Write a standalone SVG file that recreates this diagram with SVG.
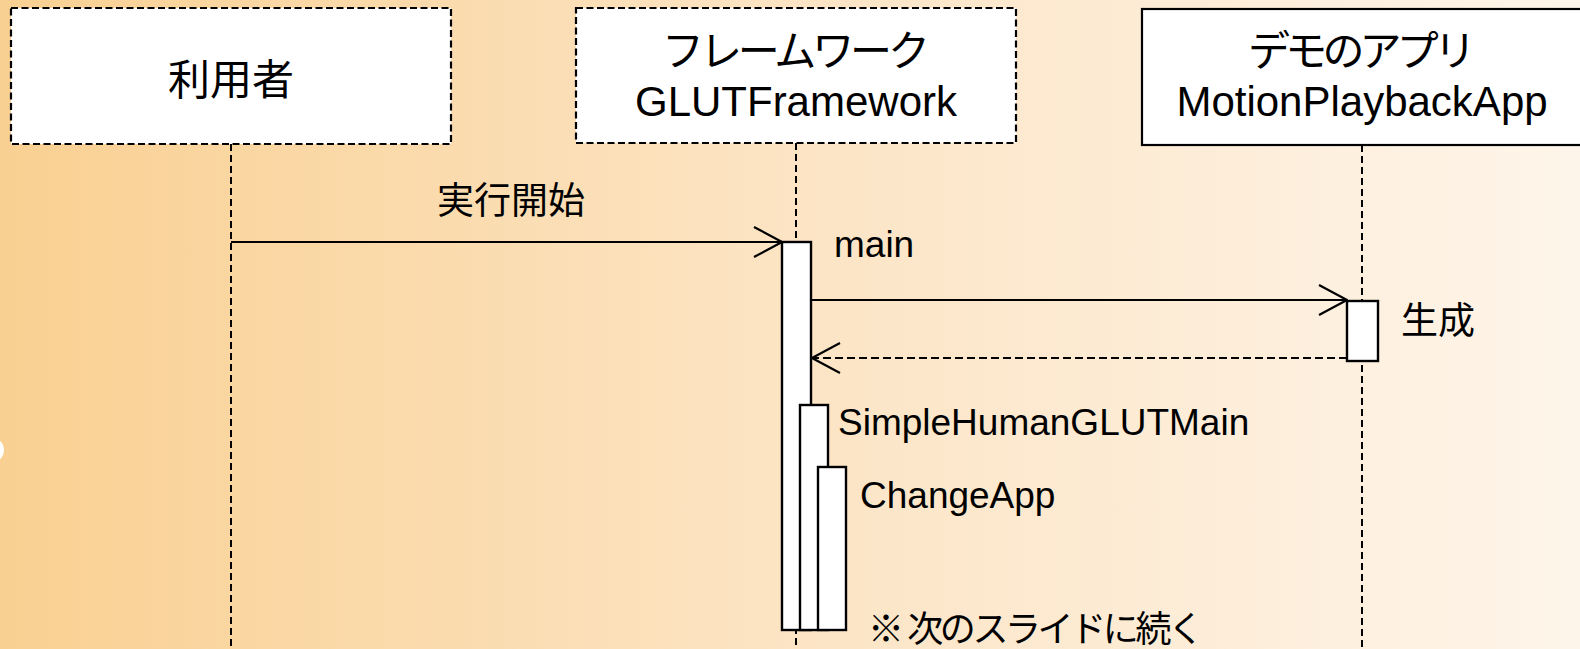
<svg xmlns="http://www.w3.org/2000/svg" width="1580" height="649" viewBox="0 0 1580 649">
  <defs>
    <linearGradient id="bg" x1="0" y1="0" x2="1" y2="0">
      <stop offset="0" stop-color="#F9D092"/>
      <stop offset="0.5" stop-color="#FCE4C4"/>
      <stop offset="1" stop-color="#FEF5EA"/>
    </linearGradient>
    <marker id="open" viewBox="0 0 30 34" refX="29" refY="17" markerWidth="30" markerHeight="34" markerUnits="userSpaceOnUse" orient="auto">
      <path d="M1 2 L29 17 L1 32" fill="none" stroke="#000" stroke-width="2.2"/>
    </marker>
    <style>
      text { font-family: "Liberation Sans", "Noto Sans CJK JP", sans-serif; fill: #000; }
      .head { font-size: 42px; text-anchor: middle; }
      .msg { font-size: 37px; }
      .box { fill: #fff; stroke: #000; stroke-width: 2.2; }
      .dashed { stroke-dasharray: 7 3.5; }
      .life { stroke: #000; stroke-width: 2; stroke-dasharray: 7 4; fill: none; }
      .act { fill: #fff; stroke: #000; stroke-width: 2.4; }
      .call { stroke: #000; stroke-width: 2.2; fill: none; marker-end: url(#open); }
      .ret { stroke: #000; stroke-width: 2.2; fill: none; stroke-dasharray: 8 4; marker-end: url(#open); }
    </style>
  </defs>

  <rect x="0" y="0" width="1580" height="649" fill="url(#bg)"/>
  <ellipse cx="-3" cy="450" rx="7" ry="10" fill="#fff"/>

  <!-- lifelines -->
  <g id="lifelines">
    <line class="life" x1="231" y1="144" x2="231" y2="649"/>
    <line class="life" x1="796" y1="143" x2="796" y2="649"/>
    <line class="life" x1="1362" y1="145" x2="1362" y2="649"/>
  </g>

  <!-- participants -->
  <g id="user">
    <rect class="box dashed" x="11" y="8" width="440" height="136"/>
    <text class="head" x="231" y="95">利用者</text>
  </g>
  <g id="framework">
    <rect class="box dashed" x="576" y="8" width="440" height="135"/>
    <text class="head" x="796" y="66" textLength="268" lengthAdjust="spacing">フレームワーク</text>
    <text class="head" x="796" y="116">GLUTFramework</text>
  </g>
  <g id="demoapp">
    <rect class="box" x="1142" y="9" width="442" height="136"/>
    <text class="head" x="1362" y="66" textLength="228" lengthAdjust="spacing">デモのアプリ</text>
    <text class="head" x="1362" y="116">MotionPlaybackApp</text>
  </g>

  <!-- activations -->
  <g id="act-main">
    <rect class="act" x="782" y="242" width="29" height="388"/>
    <text class="msg" x="834" y="257">main</text>
  </g>
  <g id="act-create">
    <rect class="act" x="1347" y="301" width="31" height="60"/>
    <text class="msg" x="1401" y="334">生成</text>
  </g>
  <g id="act-simplehuman">
    <rect class="act" x="800" y="405" width="28" height="225"/>
    <text class="msg" x="838" y="435">SimpleHumanGLUTMain</text>
  </g>
  <g id="act-changeapp">
    <rect class="act" x="818" y="467" width="28" height="163"/>
    <text class="msg" x="860" y="508">ChangeApp</text>
  </g>

  <!-- messages -->
  <g id="connectors">
    <line class="call" x1="231" y1="242" x2="782" y2="242"/>
    <text class="msg" x="511" y="214" text-anchor="middle">実行開始</text>
    <line class="call" x1="811" y1="300" x2="1347" y2="300"/>
    <line class="ret" x1="1347" y1="358" x2="812" y2="358"/>
  </g>

  <g id="note">
    <text x="868" y="642" font-size="36" textLength="336" lengthAdjust="spacing">※ 次のスライドに続く</text>
  </g>
</svg>
